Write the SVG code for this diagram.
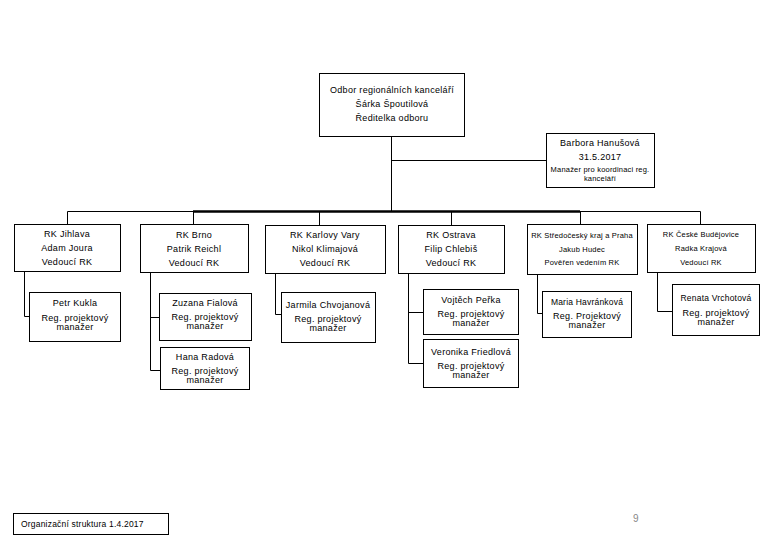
<svg xmlns="http://www.w3.org/2000/svg" width="780" height="540" viewBox="0 0 780 540">
<style>
rect.b{fill:#fff;stroke:#000;stroke-width:1}
text{font-family:"Liberation Sans",Arial,sans-serif;font-size:9px;fill:#000;text-anchor:middle;letter-spacing:0.3px}
.s{font-size:7.5px;letter-spacing:0.2px}
.m{font-size:8.5px;letter-spacing:0.2px}
.c{fill:none;stroke:#000;stroke-width:1}
.t{fill:none;stroke:#000;stroke-width:2.5}
</style>
<rect width="780" height="540" fill="#fff"/>
<g id="connectors">
<path class="c" d="M391.5 136V211.5M391.5 160.5H546"/>
<path class="c" d="M67.5 224V211.5H700.5V224"/>
<path class="t" d="M193 211.5H580"/>
<path class="c" d="M193.5 211.5V224M319.5 211.5V225M451.5 211.5V225M580.5 211.5V224"/>
<path class="c" d="M24.5 271V316.5H29"/>
<path class="c" d="M150.5 273V370.5H160M150.5 317.5H159"/>
<path class="c" d="M275.5 273V314.5H281"/>
<path class="c" d="M408.5 273V363.5H423M408.5 312.5H423"/>
<path class="c" d="M537.5 274V313.5H542"/>
<path class="c" d="M657.5 272V311.5H672"/>
</g>
<g id="n-odbor"><rect class="b" x="319.5" y="73.5" width="145" height="63"/>
<text x="392" y="93">Odbor regionálních kanceláří</text><text x="392" y="107">Šárka Špoutilová</text><text x="392" y="121">Ředitelka odboru</text></g>
<g id="n-manazer"><rect class="b" x="546.5" y="133.5" width="108" height="54"/>
<text x="600" y="146">Barbora Hanušová</text><text x="600" y="160">31.5.2017</text><text class="s" x="600" y="172">Manažer pro koordinaci reg.</text><text class="s" x="600" y="181">kanceláří</text></g>
<g id="n-jihlava"><rect class="b" x="14.5" y="224.5" width="106" height="47"/>
<text x="67" y="237">RK Jihlava</text><text x="67" y="251">Adam Joura</text><text x="67" y="265">Vedoucí RK</text></g>
<g id="n-brno"><rect class="b" x="140.5" y="224.5" width="108" height="48"/>
<text x="194" y="238">RK Brno</text><text x="194" y="252">Patrik Reichl</text><text x="194" y="266">Vedoucí RK</text></g>
<g id="n-kv"><rect class="b" x="265.5" y="225.5" width="120" height="48"/>
<text x="325" y="238">RK Karlovy Vary</text><text x="325" y="252">Nikol Klimajová</text><text x="325" y="266">Vedoucí RK</text></g>
<g id="n-ostrava"><rect class="b" x="398.5" y="225.5" width="106" height="48"/>
<text x="451" y="238">RK Ostrava</text><text x="451" y="252">Filip Chlebiš</text><text x="451" y="266">Vedoucí RK</text></g>
<g id="n-stredocesky"><rect class="b" x="527.5" y="224.5" width="110" height="50"/>
<text class="s" x="582" y="238">RK Středočeský kraj a Praha</text><text class="s" x="582" y="252">Jakub Hudec</text><text class="s" x="582" y="265">Pověřen vedením RK</text></g>
<g id="n-cb"><rect class="b" x="647.5" y="224.5" width="108" height="48"/>
<text class="s" x="701" y="237">RK České Budějovice</text><text class="s" x="701" y="251">Radka Krajová</text><text class="s" x="701" y="265">Vedoucí RK</text></g>
<g id="n-kukla"><rect class="b" x="29.5" y="292.5" width="91" height="49"/>
<text x="75" y="306">Petr Kukla</text><text x="75" y="321">Reg. projektový</text><text x="75" y="330">manažer</text></g>
<g id="n-fialova"><rect class="b" x="159.5" y="293.5" width="92" height="47"/>
<text x="205" y="306">Zuzana Fialová</text><text x="205" y="320">Reg. projektový</text><text x="205" y="329">manažer</text></g>
<g id="n-radova"><rect class="b" x="160.5" y="347.5" width="89" height="42"/>
<text x="205" y="360">Hana Radová</text><text x="205" y="374">Reg. projektový</text><text x="205" y="383">manažer</text></g>
<g id="n-chvojanova"><rect class="b" x="281.5" y="292.5" width="94" height="50"/>
<text x="328" y="308">Jarmila Chvojanová</text><text x="328" y="322">Reg. projektový</text><text x="328" y="331">manažer</text></g>
<g id="n-perka"><rect class="b" x="423.5" y="289.5" width="95" height="45"/>
<text x="471" y="303">Vojtěch Peřka</text><text x="471" y="317">Reg. projektový</text><text x="471" y="326">manažer</text></g>
<g id="n-friedlova"><rect class="b" x="423.5" y="339.5" width="95" height="48"/>
<text x="471" y="355">Veronika Friedlová</text><text x="471" y="369">Reg. projektový</text><text x="471" y="378">manažer</text></g>
<g id="n-havrankova"><rect class="b" x="542.5" y="291.5" width="89" height="46"/>
<text class="m" x="587" y="305">Maria Havránková</text><text x="587" y="319">Reg. Projektový</text><text x="587" y="328">manažer</text></g>
<g id="n-vrchotova"><rect class="b" x="672.5" y="284.5" width="87" height="51"/>
<text class="m" x="716" y="301">Renata Vrchotová</text><text x="716" y="316">Reg. projektový</text><text x="716" y="325">manažer</text></g>
<g id="footer"><rect class="b" x="13.5" y="513.5" width="155" height="21"/>
<text class="m" x="21" y="527" style="text-anchor:start">Organizační struktura 1.4.2017</text></g>
<text x="636" y="522" style="fill:#888;font-size:10px">9</text>
</svg>
